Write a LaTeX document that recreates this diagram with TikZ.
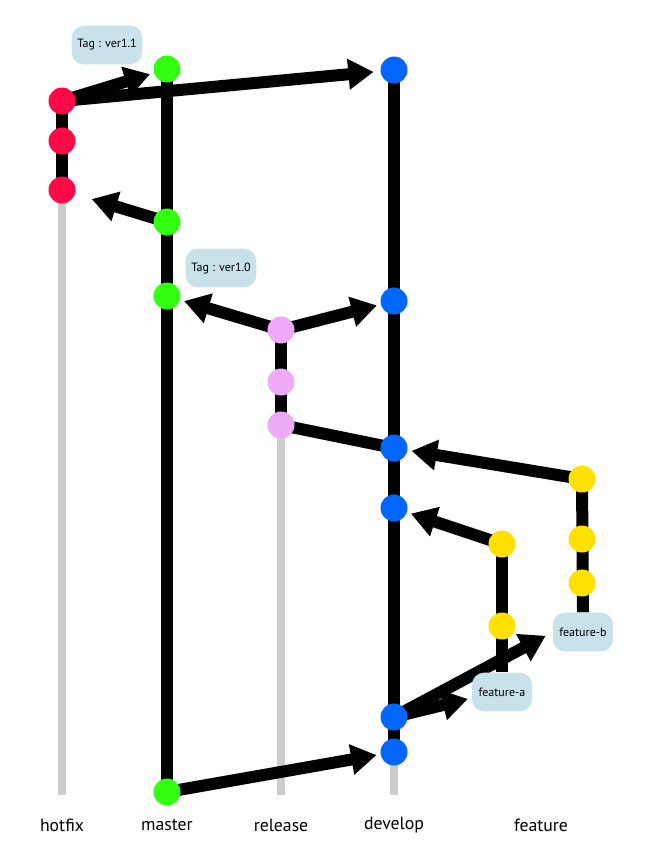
\documentclass[tikz,border=0pt]{standalone}
\usepackage{fontspec}
\setmainfont{PT Sans}
\usetikzlibrary{arrows.meta}
\usetikzlibrary{calc}
\usetikzlibrary{backgrounds}

\definecolor{hotfixc}{HTML}{FF0A47}
\definecolor{masterc}{HTML}{33FF10}
\definecolor{releasec}{HTML}{EEAAF8}
\definecolor{developc}{HTML}{0066FF}
\definecolor{featurec}{HTML}{FFE000}
\definecolor{tagc}{HTML}{C8E1EA}

\tikzset{
	commit/.style={circle, fill=#1, minimum size=20.25pt, inner sep=0pt},
	branch/.style={line width=9pt},
	trunk/.style={line width=6pt, color=black!20},
	merge/.style={line width=9pt, -{Triangle[length=19pt,width=22pt]}, shorten >=3pt},
	tag/.style={fill=tagc, rounded corners=9pt, minimum height=29pt, inner sep=0pt,
		font=\fontsize{9}{11}\selectfont},
	brname/.style={font=\fontsize{13.3}{15}\selectfont}
}

\begin{document}
\begin{tikzpicture}[x=0.75pt, y=-0.75pt]
	\useasboundingbox (0,0) rectangle (655,856);

	\foreach \x/\name in {62/hotfix, 167/master, 281/release, 394/develop, 541/feature}
	\node[brname] (\name) at (\x,825) {\name};
	\foreach \x/\name in {62/hotfix, 281/release, 394/develop}
	\coordinate (\name-end) at (\x,795);

	\foreach \n/\y in {1/101, 2/141, 3/190}
	\node[commit=hotfixc] (h\n) at (62,\y) {};
	\foreach \n/\y in {1/69, 2/222, 3/296, 4/792}
	\node[commit=masterc] (m\n) at (167,\y) {};
	\foreach \n/\y in {1/330, 2/382, 3/425}
	\node[commit=releasec] (r\n) at (281,\y) {};
	\foreach \n/\y in {1/70, 2/301, 3/448, 4/508, 5/717, 6/752}
	\node[commit=developc] (d\n) at (394,\y) {};
	\foreach \n/\y in {1/544, 2/626}
	\node[commit=featurec] (fa\n) at (502,\y) {};
	\foreach \n/\y in {1/479, 2/539, 3/583}
	\node[commit=featurec] (fb\n) at (582,\y) {};

	\node[tag, minimum width=53pt] (tag11) at (107,45) {Tag : ver1.1};
	\node[tag, minimum width=53pt] (tag10) at (221,268) {Tag : ver1.0};
	\node[tag, minimum width=45pt] (fatag) at (502,692) {feature-a};
	\node[tag, minimum width=45pt] (fbtag) at (583,632) {feature-b};

	\begin{scope}[on background layer]
		\draw[trunk] (h3.center) -- (hotfix-end);
		\draw[trunk] (r3.center) -- (release-end);
		\draw[trunk] (d6.center) -- (develop-end);

		\draw[branch] (h1.center) -- (h3.center);
		\draw[branch] (m1.center) -- (m4.center);
		\draw[branch] (r1.center) -- (r3.center);
		\draw[branch] (d1.center) -- (d6.center);
		\draw[branch] (fa1.center) -- (fatag.north);
		\draw[branch] (fb1.center) -- (fbtag.north);
		\draw[branch] (r3.center) -- (d3.center);

		\draw[merge] (h1.center) -- (m1);
		\draw[merge, shorten >=5pt] (h1.center) -- (d1);
		\draw[merge, shorten >=13pt] (m2.center) -- (h3);
		\draw[merge] (r1.center) -- (m3);
		\draw[merge] (r1.center) -- (d2);
		\draw[merge] (fb1.center) -- (d3);
		\draw[merge] (fa1.center) -- (d4);
		\draw[merge] (d5.center) -- ($(fatag.west)+(0,6)$);
		\draw[merge, shorten >=6pt] (d5.center) -- (fbtag.west);
		\draw[merge] (m4.center) -- (d6);
	\end{scope}
\end{tikzpicture}
\end{document}
